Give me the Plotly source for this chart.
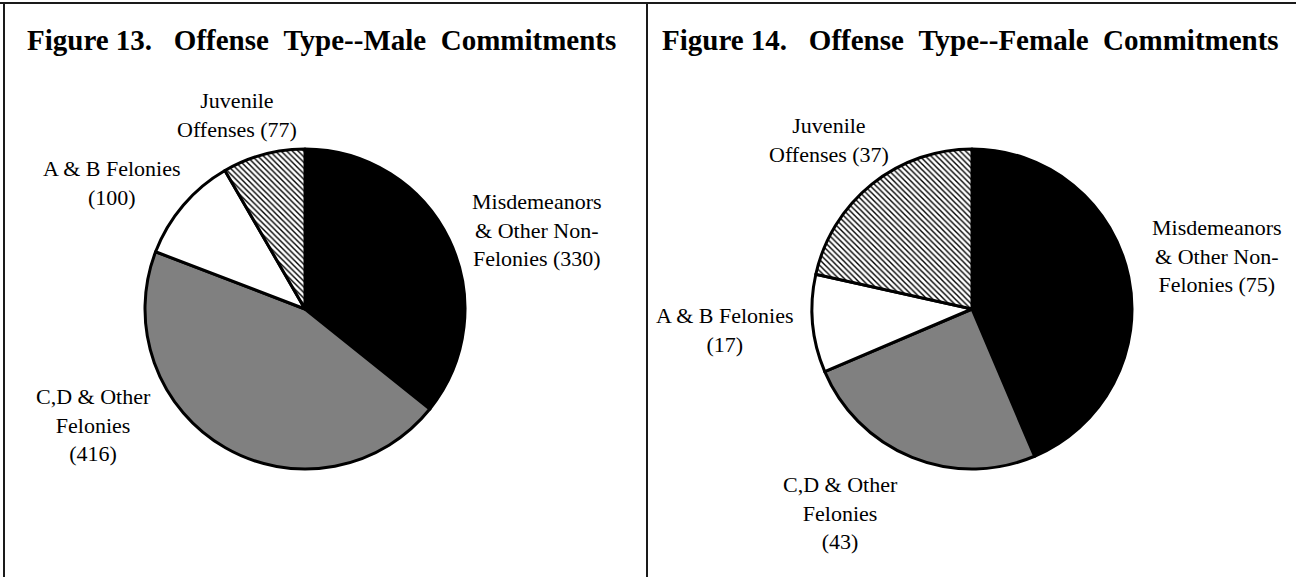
import plotly.graph_objects as go

W, H = 1296, 577

categories = ['Misdemeanors & Other Non-Felonies', 'C,D & Other Felonies',
              'A & B Felonies', 'Juvenile Offenses']
male_counts = [330, 416, 100, 77]
female_counts = [75, 43, 17, 37]

NB = '\u00a0'
titles = [f'Figure{NB}13.{NB*3}Offense{NB*2}Type--Male{NB*2}Commitments',
          f'Figure{NB}14.{NB*3}Offense{NB*2}Type--Female{NB*2}Commitments']

SERIF = 'Liberation Serif, Times New Roman, serif'
slice_colors = ['#000000', '#808080', '#ffffff', '#ffffff']
slice_patterns = ['', '', '', '\\']


def px_x(x):
    return x / W


def px_y(y):
    return 1 - y / H


def pie_domain(cx, cy, r):
    return dict(x=[px_x(cx - r), px_x(cx + r)], y=[px_y(cy + r), px_y(cy - r)])


def label_texts(counts):
    return [
        f'Misdemeanors<br>& Other Non-<br>Felonies ({counts[0]})',
        f'C,D & Other<br>Felonies<br>({counts[1]})',
        f'A & B Felonies<br>({counts[2]})',
        f'Juvenile<br>Offenses ({counts[3]})',
    ]


fig = go.Figure()
for counts, (cx, cy) in [(male_counts, (305, 309)), (female_counts, (972, 309))]:
    fig.add_trace(go.Pie(
        labels=categories,
        values=counts,
        sort=False,
        direction='clockwise',
        rotation=0,
        textinfo='none',
        hoverinfo='label+value',
        domain=pie_domain(cx, cy, 160),
        marker=dict(
            colors=slice_colors,
            line=dict(color='#000000', width=3),
            pattern=dict(shape=slice_patterns, fgcolor='#000000', bgcolor='#ffffff',
                         size=4, solidity=0.35),
        ),
        showlegend=False,
    ))

# label block centres (px), same order as categories
male_pos = [(537, 230), (93, 425), (112, 183), (237, 115)]
female_pos = [(1217, 256), (840, 513), (725, 330), (829, 140)]

annotations = []
for counts, pos in [(male_counts, male_pos), (female_counts, female_pos)]:
    for txt, (x, y) in zip(label_texts(counts), pos):
        annotations.append(dict(
            x=px_x(x), y=px_y(y), xref='paper', yref='paper',
            text=txt, showarrow=False, align='center',
            xanchor='center', yanchor='middle',
            font=dict(family=SERIF, size=22, color='#000000'),
        ))

for title, x in zip(titles, [321, 970]):
    annotations.append(dict(
        x=px_x(x), y=px_y(40), xref='paper', yref='paper',
        text=f'<b>{title}</b>', showarrow=False,
        xanchor='center', yanchor='middle',
        font=dict(family=SERIF, size=29, color='#000000'),
    ))

line_style = dict(color='#1a1a1a', width=2)
shapes = [
    dict(type='line', xref='paper', yref='paper', x0=0, x1=1,
         y0=px_y(3), y1=px_y(3), line=line_style),
    dict(type='line', xref='paper', yref='paper', x0=px_x(4), x1=px_x(4),
         y0=px_y(3), y1=0, line=line_style),
    dict(type='line', xref='paper', yref='paper', x0=px_x(647), x1=px_x(647),
         y0=px_y(3), y1=0, line=line_style),
]

fig.update_layout(
    width=W, height=H,
    margin=dict(l=0, r=0, t=0, b=0),
    paper_bgcolor='#ffffff', plot_bgcolor='#ffffff',
    annotations=annotations, shapes=shapes,
)

fig.write_html('out.html', config={'displayModeBar': False},
               post_script="document.body.style.margin='0';")
